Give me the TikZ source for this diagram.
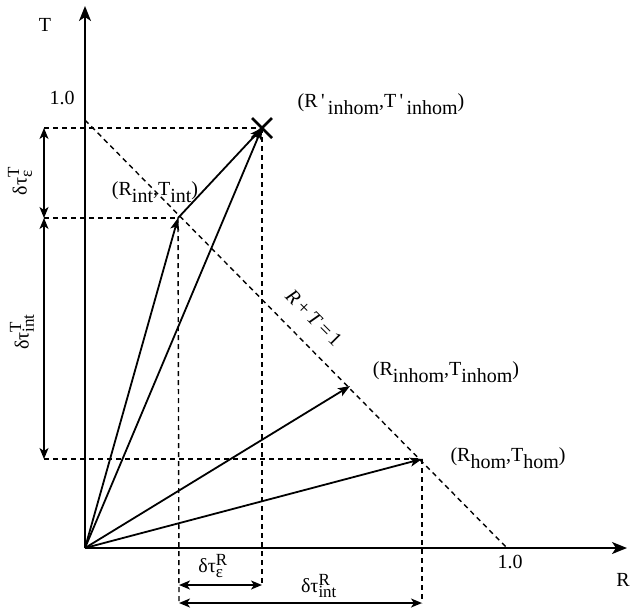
\documentclass[tikz,border=0pt]{standalone}
\usepackage{fontspec}
\setmainfont{Liberation Serif}
\usetikzlibrary{arrows.meta}
\newcommand\mysub[1]{\raisebox{-0.35em}{#1}}
\newcommand\mysupsub[2]{$^{\mbox{\fontsize{17}{17}\selectfont #1}}_{\mbox{\fontsize{17}{17}\selectfont #2}}$}
\begin{document}
\begin{tikzpicture}[x=1pt,y=-1pt,
  lbl/.style={font=\fontsize{20}{24}\selectfont, inner sep=0pt},
  axis/.style={line width=1.9pt, -{Stealth[length=15pt,width=12pt,inset=4pt]}},
  vec/.style={line width=1.8pt, -{Stealth[length=12pt,width=9pt,inset=3pt]}},
  dline/.style={line width=1.4pt, dash pattern=on 5pt off 4pt},
  dim/.style={line width=1.7pt, {Stealth[length=11pt,width=9pt,inset=3pt]}-{Stealth[length=11pt,width=9pt,inset=3pt]}}]
\useasboundingbox (0,0) rectangle (631,611);
% points
\coordinate (O) at (85,548);
\coordinate (Ttop) at (85,6);
\coordinate (Rend) at (627,548);
\coordinate (P) at (262,128);
\coordinate (I) at (178,218);
\coordinate (N) at (350,386);
\coordinate (H) at (422,459);
\coordinate (D1) at (85,120);
\coordinate (D2) at (507,548);
\coordinate (aP) at (44,128);
\coordinate (aI) at (44,218);
\coordinate (aH) at (44,459);
\coordinate (bI1) at (179,585);
\coordinate (bP1) at (262,585);
\coordinate (bI2) at (179,603);
\coordinate (bH2) at (422,603);
% dashed guides
\draw[dline] (D1) -- (D2);
\draw[dline] (aP) -- (P);
\draw[dline] (aI) -- (I);
\draw[dline] (aH) -- (H);
\draw[dline] (P) -- (bP1);
\draw[dline] (I) -- (bI2);
\draw[dline] (H) -- (bH2);
% axes
\draw[axis] (O) -- (Ttop);
\draw[axis] (O) -- (Rend);
% vectors
\draw[vec] (O) -- (I);
\draw[vec] (O) -- (P);
\draw[vec] (I) -- (P);
\draw[vec] (O) -- (N);
\draw[vec] (O) -- (H);
% cross marker
\draw[line width=2.8pt] ([shift={(-10,-10)}]P) -- ([shift={(10,10)}]P);
\draw[line width=2.8pt] ([shift={(-10,10)}]P) -- ([shift={(10,-10)}]P);
% dimension arrows
\draw[dim] (aP) -- (aI);
\draw[dim] (aI) -- (aH);
\draw[dim] (bI1) -- (bP1);
\draw[dim] (bI2) -- (bH2);
% labels
\node[lbl] (tT) at (45,25) {T};
\node[lbl] (tR) at (623,580) {R};
\node[lbl] (t1a) at (62,98) {1.0};
\node[lbl] (t1b) at (510,562) {1.0};
\node[lbl] (lP) at (381,104) {(R\,\textquotesingle\,\mysub{inhom},T\,\textquotesingle\,\mysub{inhom})};
\node[lbl] (lI) at (155,192) {(R\mysub{int},T\mysub{int})};
\node[lbl] (lN) at (446,372) {(R\mysub{inhom},T\mysub{inhom})};
\node[lbl] (lH) at (508,458) {(R\mysub{hom},T\mysub{hom})};
\node[lbl, rotate=-45] (lRT) at (314,318) {\textit{R}\,+\,\textit{T}\,=\,1};
\node[lbl, rotate=90] (le) at (20,181) {δτ\mysupsub{T}{ε}};
\node[lbl, rotate=90] (li) at (22,332) {δτ\mysupsub{T}{int}};
\node[lbl] (lRe) at (213,566) {δτ\mysupsub{R}{ε}};
\node[lbl] (lRi) at (319,586) {δτ\mysupsub{R}{int}};
\end{tikzpicture}
\end{document}
